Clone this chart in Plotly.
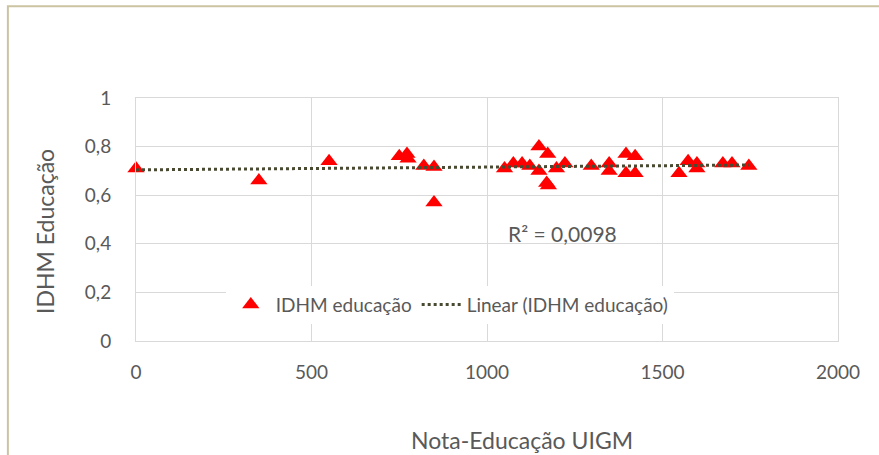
import numpy as np
import plotly.graph_objects as go

# Data
nota_educacao = [0, 350, 550, 750, 772, 775, 820, 849, 849,
                 1050, 1075, 1100, 1122, 1148, 1148, 1173, 1170, 1175, 1198, 1222,
                 1297, 1348, 1348, 1396, 1422, 1396, 1422,
                 1547, 1573, 1598, 1598, 1672, 1698, 1746]
idhm_educacao = [0.71, 0.66, 0.74, 0.76, 0.77, 0.75, 0.72, 0.716, 0.57,
                 0.71, 0.73, 0.73, 0.72, 0.80, 0.70, 0.77, 0.65, 0.64, 0.71, 0.73,
                 0.72, 0.73, 0.70, 0.77, 0.76, 0.69, 0.69,
                 0.69, 0.74, 0.73, 0.71, 0.73, 0.73, 0.72]
r2_label = "R² = 0,0098"
x_title = "Nota-Educação UIGM"
y_title = "IDHM Educação"
x_ticks = [0, 500, 1000, 1500, 2000]
y_ticks = [0, 0.2, 0.4, 0.6, 0.8, 1]
y_tick_labels = ["0", "0,2", "0,4", "0,6", "0,8", "1"]

x = np.array(nota_educacao, dtype=float)
y = np.array(idhm_educacao, dtype=float)
slope, intercept = np.polyfit(x, y, 1)
trend_x = np.array([x.min(), x.max()])
trend_y = slope * trend_x + intercept

FONT = "Lato, Open Sans, sans-serif"
TXT = "#595959"
GRID = "#d9d9d9"

fig = go.Figure()
fig.add_trace(go.Scatter(
    x=nota_educacao, y=idhm_educacao, mode="markers", name="IDHM educação",
    marker=dict(symbol="triangle-up", size=15, color="#ff0000", line=dict(width=0)),
    cliponaxis=False,
))
fig.add_trace(go.Scatter(
    x=trend_x, y=trend_y, mode="lines", name="Linear (IDHM educação)",
    line=dict(color="#4a4a32", width=3, dash="dot"),
))

fig.add_annotation(x=1214, y=0.444, text=r2_label, showarrow=False,
                   font=dict(family=FONT, size=21, color=TXT))
# axis titles (placed as in the reference)
fig.add_annotation(xref="paper", yref="paper", x=0.55, y=-0.407, text=x_title,
                   showarrow=False, xanchor="center", yanchor="middle",
                   font=dict(family=FONT, size=23, color=TXT))
fig.add_annotation(xref="paper", yref="paper", x=-0.1296, y=0.4486, text=y_title,
                   showarrow=False, textangle=-90, xanchor="center", yanchor="middle",
                   font=dict(family=FONT, size=23, color=TXT))

# outer chart border (top/left visible)
fig.add_shape(type="rect", xref="paper", yref="paper",
              x0=-0.1825, y0=-0.8, x1=1.3, y1=1.378,
              line=dict(color="#cbc4a2", width=2), layer="below")

fig.update_layout(
    width=879, height=455,
    margin=dict(l=136, r=41, t=98, b=114),
    paper_bgcolor="white", plot_bgcolor="white",
    font=dict(family=FONT, size=19, color=TXT),
    showlegend=True,
    legend=dict(orientation="h", x=0.447, y=0.15, xanchor="center", yanchor="middle",
                bgcolor="white", font=dict(family=FONT, size=19, color=TXT),
                itemwidth=40, tracegroupgap=0),
)
fig.update_xaxes(
    range=[0, 2000], tickvals=x_ticks, showgrid=True, gridcolor=GRID, gridwidth=1,
    zeroline=False, showline=True, linecolor=GRID, mirror=True, automargin=False,
    ticks="", ticklabelstandoff=14,
    tickfont=dict(family=FONT, size=19, color=TXT),
)
fig.update_yaxes(
    range=[0, 1], tickvals=y_ticks, ticktext=y_tick_labels, showgrid=True, gridcolor=GRID,
    gridwidth=1, zeroline=False, showline=True, linecolor=GRID, mirror=True, automargin=False,
    ticks="", ticklabelstandoff=20,
    tickfont=dict(family=FONT, size=19, color=TXT),
)

fig.write_html("out.html", post_script="document.body.style.margin='0';",
               config={"displayModeBar": False})
